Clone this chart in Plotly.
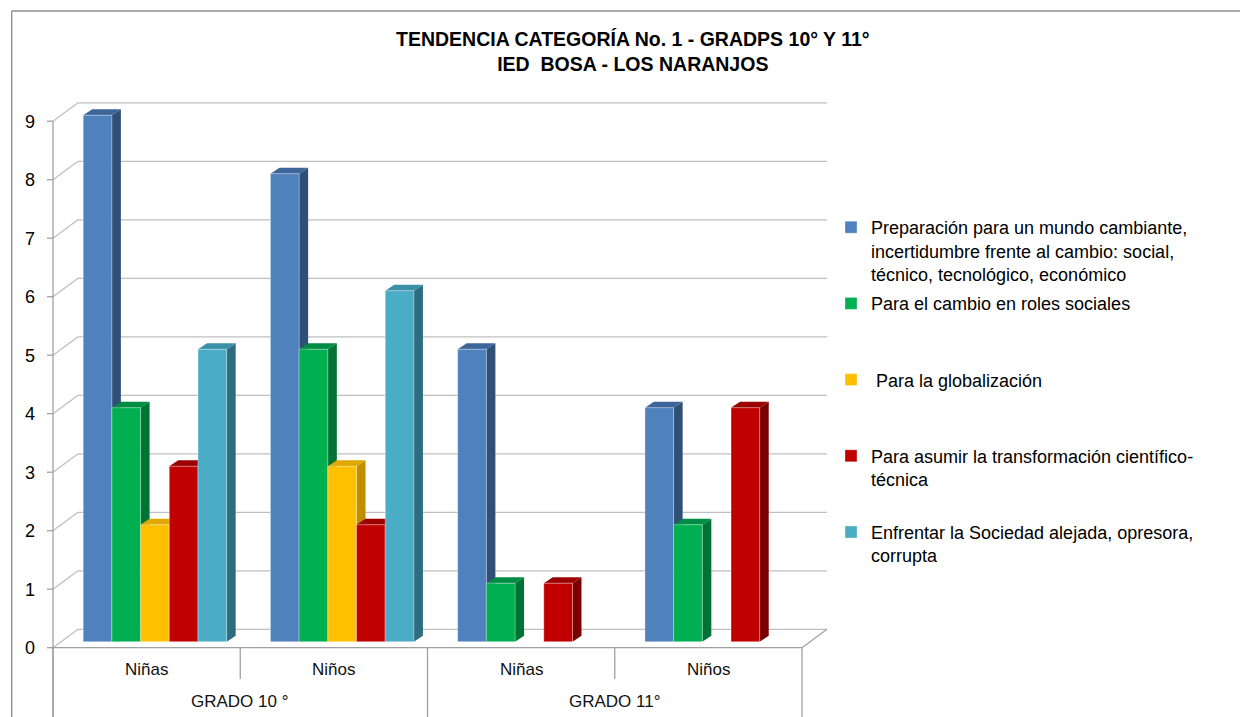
import plotly.graph_objects as go

# ---------------- data ----------------
level1_labels = ["Niñas", "Niños", "Niñas", "Niños"]
level2_labels = ["GRADO 10 °", "GRADO 11°"]
level2_spans = [2, 2]

series_names = [
    "Preparación para un mundo cambiante,<br>incertidumbre frente al cambio: social,<br>técnico, tecnológico, económico",
    "Para el cambio en roles sociales",
    "\u00a0Para la globalización",
    "Para asumir la transformación científico-<br>técnica",
    "Enfrentar la Sociedad alejada, opresora,<br>corrupta",
]
preparacion = [9, 8, 5, 4]
roles_sociales = [4, 5, 1, 2]
globalizacion = [2, 3, 0, 0]
transformacion = [3, 2, 1, 4]
sociedad = [5, 6, 0, 0]
series_values = [preparacion, roles_sociales, globalizacion, transformacion, sociedad]
y_ticks = [0, 1, 2, 3, 4, 5, 6, 7, 8, 9]

title_lines = ["TENDENCIA CATEGORÍA No. 1 - GRADPS 10° Y 11°", "IED&nbsp; BOSA - LOS NARANJOS"]

# ---------------- styles ----------------
front_colors = ["#4F81BD", "#00B050", "#FFC000", "#C00000", "#4BACC6"]
side_colors = ["#2F4F77", "#007334", "#C08F00", "#7A0000", "#2E6C80"]
top_colors = ["#3D659A", "#008C42", "#E0A800", "#9C0000", "#3B8FA6"]

W, H = 1248, 717          # window size
OFF = 8                   # page body margin
FIG_W, FIG_H = W - OFF, H - OFF
PLOT_L, PLOT_R, PLOT_T, PLOT_B = 40, 840, 90, 717
BAR_X0 = 61.3      # pixel of x=-0.5 in the bar plane
CAT_W = 187.25     # pixels per category
BASE_Y = 641.7     # pixel of value 0 in the bar plane
UNIT = 58.5        # pixels per unit
FRONT_DX, FRONT_DY = -8.3, 6.0    # front edge of floor relative to bar plane
BACK_DX, BACK_DY = 16.7, -12.4    # back wall relative to bar plane
DEPTH_DX, DEPTH_DY = 9.0, -6.0    # bar depth
GROUP_W = 143.5
GRID = "#BFBFBF"
AXIS = "#A0A0A0"
FONT = "Liberation Sans, Arial, sans-serif"


def x2px(x):
    return BAR_X0 + (x + 0.5) * CAT_W


def px2x(p):
    return (p - BAR_X0) / CAT_W - 0.5


def y2py(v):
    return BASE_Y - v * UNIT


def py2y(p):
    return (BASE_Y - p) / UNIT


def pxp(p):
    return (p - OFF) / FIG_W


def pyp(p):
    return 1 - (p - OFF) / FIG_H


n_cat = len(level1_labels)
n_ser = len(series_values)
bargap = 1 - GROUP_W / CAT_W
bw = (1 - bargap) / n_ser

fig = go.Figure()
for j in range(n_ser):
    fig.add_trace(go.Bar(
        x=list(range(n_cat)), y=series_values[j], name=series_names[j] + "<br> " * (2 - series_names[j].count("<br>")),
        marker=dict(color=front_colors[j], line=dict(color="rgba(255,255,255,0.35)", width=1)),
        legendgroup=str(j), hoverinfo="y",
    ))

shapes = []


def line_px(x0, y0, x1, y1, color=GRID, width=1.3, layer="below"):
    shapes.append(dict(type="line", xref="paper", yref="paper",
                       x0=pxp(x0), y0=pyp(y0), x1=pxp(x1), y1=pyp(y1),
                       line=dict(color=color, width=width), layer=layer))


front_l = x2px(-0.5) + FRONT_DX
front_r = x2px(n_cat - 0.5) + FRONT_DX
front_floor_y = y2py(0) + FRONT_DY

# back wall gridlines, diagonals, tick marks
for v in y_ticks:
    by = y2py(v) + BACK_DY
    fy = y2py(v) + FRONT_DY
    line_px(x2px(-0.5) + BACK_DX, by, x2px(n_cat - 0.5) + BACK_DX, by)
    line_px(front_l, fy, x2px(-0.5) + BACK_DX, by)
    line_px(front_l - 6, fy, front_l, fy, color=AXIS)

# vertical axis line (continues down through the category table)
line_px(front_l, y2py(max(y_ticks)) + FRONT_DY, front_l, H, color=AXIS)
# floor front and right edges
line_px(front_l, front_floor_y, front_r, front_floor_y, color=AXIS)
line_px(front_r, front_floor_y, x2px(n_cat - 0.5) + BACK_DX, y2py(0) + BACK_DY, color=AXIS)

# category table dividers
lvl2_bounds = [0]
for s in level2_spans:
    lvl2_bounds.append(lvl2_bounds[-1] + s)
for k in range(n_cat + 1):
    xk = x2px(k - 0.5) + FRONT_DX
    bottom = H if k in lvl2_bounds else 679
    line_px(xk, front_floor_y, xk, bottom, color=AXIS)

# frame of the chart area
line_px(11.7, 11, W, 11, color="#8C8C8C", width=1.3)
line_px(11.7, 11, 11.7, H, color="#8C8C8C", width=1.3)

# 3D side and top faces of bars
for j in range(n_ser):
    for i in range(n_cat):
        v = series_values[j][i]
        if v == 0:
            continue
        left = i - (1 - bargap) / 2 + j * bw
        right = left + bw
        pl, pr = x2px(left), x2px(right)
        p0, pv = y2py(0), y2py(v)
        side = [(pr, p0), (pr + DEPTH_DX, p0 + DEPTH_DY), (pr + DEPTH_DX, pv + DEPTH_DY), (pr, pv)]
        top = [(pl, pv), (pl + DEPTH_DX, pv + DEPTH_DY), (pr + DEPTH_DX, pv + DEPTH_DY), (pr, pv)]
        for pts, col in ((side, side_colors[j]), (top, top_colors[j])):
            path = "M " + " L ".join(f"{px2x(a):.5f},{py2y(b):.5f}" for a, b in pts) + " Z"
            shapes.append(dict(type="path", xref="x", yref="y", path=path,
                               fillcolor=col, line=dict(width=0), layer="between"))

annotations = []
for i, lab in enumerate(level1_labels):
    annotations.append(dict(x=i, xref="x", xshift=FRONT_DX, y=pyp(669), yref="paper",
                            xanchor="center", yanchor="middle",
                            text=lab, showarrow=False, font=dict(family=FONT, size=17, color="#111")))
for g, lab in enumerate(level2_labels):
    c = (lvl2_bounds[g] + lvl2_bounds[g + 1] - 1) / 2
    annotations.append(dict(x=c, xref="x", xshift=FRONT_DX, y=pyp(701.7), yref="paper",
                            xanchor="center", yanchor="middle",
                            text=lab, showarrow=False, font=dict(family=FONT, size=17, color="#111")))
annotations.append(dict(x=pxp(633), xref="paper", y=pyp(51.5), yref="paper",
                        xanchor="center", yanchor="middle",
                        text="<b>" + "<br>".join(title_lines) + "</b>", showarrow=False,
                        font=dict(family=FONT, size=19.5, color="#000")))

fig.update_layout(
    width=FIG_W, height=FIG_H, margin=dict(l=0, r=0, t=0, b=0),
    paper_bgcolor="white", plot_bgcolor="rgba(0,0,0,0)",
    barmode="group", bargap=bargap, bargroupgap=0,
    shapes=shapes, annotations=annotations,
    xaxis=dict(domain=[pxp(PLOT_L), pxp(PLOT_R)], range=[px2x(PLOT_L), px2x(PLOT_R)],
               showgrid=False, zeroline=False, showticklabels=False, showline=False, fixedrange=True),
    yaxis=dict(domain=[pyp(PLOT_B), pyp(PLOT_T)], range=[py2y(PLOT_B), py2y(PLOT_T)],
               tickvals=y_ticks, showgrid=False, zeroline=False, showline=False, ticks="",
               ticklabelstandoff=4,
               ticklabelshift=int(round(FRONT_DY)), tickfont=dict(family=FONT, size=18, color="#000"), fixedrange=True),
    legend=dict(x=pxp(831), xanchor="left", y=pyp(209), yanchor="top",
                font=dict(family=FONT, size=18, color="#000"), valign="top",
                tracegroupgap=3, bgcolor="rgba(0,0,0,0)", itemclick=False, itemdoubleclick=False),
    showlegend=True,
)

fig.write_html("out.html")
